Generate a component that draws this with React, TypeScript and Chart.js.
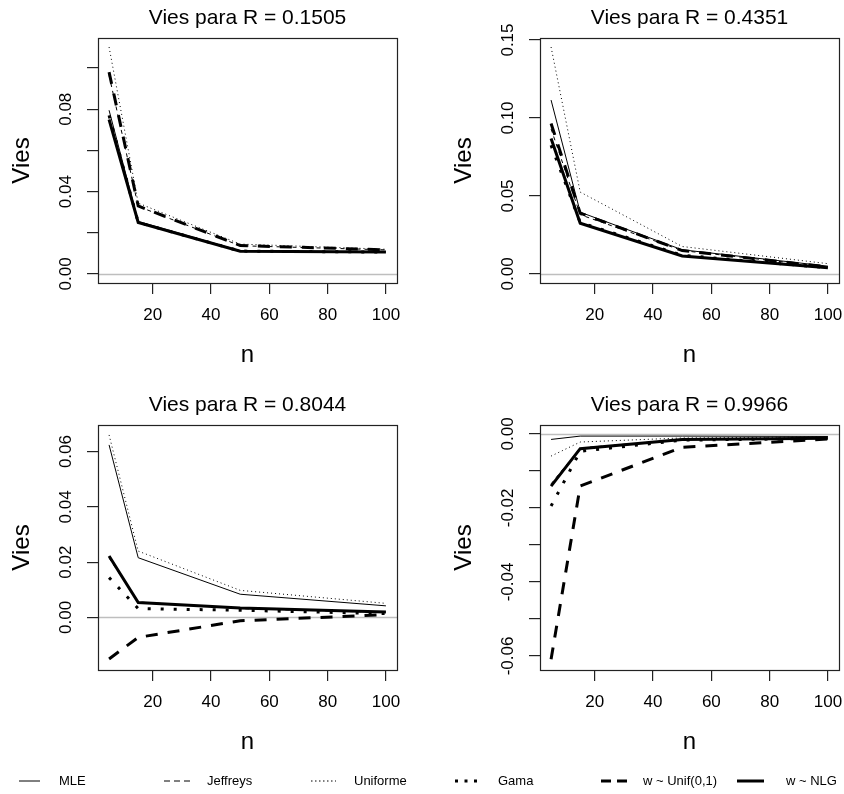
import React, { useEffect, useRef } from 'react';
import { Chart, registerables } from 'chart.js';

Chart.register(...registerables);

const FONT = "'Liberation Sans', Arial, Helvetica, sans-serif";

// ---- data ----
const nValues = [5, 15, 50, 100];
const xTicks = [20, 40, 60, 80, 100];
const seriesNames = ['MLE', 'Jeffreys', 'Uniforme', 'Gama', 'w ~ Unif(0,1)', 'w ~ NLG'];
const rValues = ['0.1505', '0.4351', '0.8044', '0.9966'];

// R = 0.1505
const mle1 = [0.0795, 0.0255, 0.0113, 0.0107];
const jeffreys1 = [0.0965, 0.0328, 0.0137, 0.0117];
const uniforme1 = [0.1102, 0.0344, 0.0145, 0.0120];
const gama1 = [0.0770, 0.0250, 0.0111, 0.0106];
const wUnif1 = [0.0980, 0.0330, 0.0138, 0.0117];
const wNlg1 = [0.0750, 0.0250, 0.0110, 0.0106];

// R = 0.4351
const mle2 = [0.1115, 0.0396, 0.0155, 0.0050];
const jeffreys2 = [0.0930, 0.0380, 0.0150, 0.0045];
const uniforme2 = [0.1455, 0.0525, 0.0176, 0.0066];
const gama2 = [0.0825, 0.0330, 0.0120, 0.0040];
const wUnif2 = [0.0965, 0.0390, 0.0150, 0.0045];
const wNlg2 = [0.0868, 0.0325, 0.0115, 0.0040];

// R = 0.8044
const mle3 = [0.0624, 0.0216, 0.0084, 0.0042];
const jeffreys3 = [0.0215, 0.0056, 0.0032, 0.0018];
const uniforme3 = [0.0660, 0.0240, 0.0098, 0.0051];
const gama3 = [0.0144, 0.0032, 0.0026, 0.0014];
const wUnif3 = [-0.0150, -0.0072, -0.0012, 0.0010];
const wNlg3 = [0.0222, 0.0054, 0.0034, 0.0020];

// R = 0.9966
const mle4 = [-0.0015, -0.0006, -0.0006, -0.0007];
const jeffreys4 = [-0.0135, -0.0038, -0.0015, -0.0011];
const uniforme4 = [-0.0060, -0.0022, -0.0011, -0.0008];
const gama4 = [-0.0195, -0.0047, -0.0017, -0.0012];
const wUnif4 = [-0.0609, -0.0141, -0.0036, -0.0014];
const wNlg4 = [-0.0141, -0.0040, -0.0015, -0.0012];

const yTicks1 = [0, 0.02, 0.04, 0.06, 0.08, 0.1];
const yLabels1 = ['0.00', '', '0.04', '', '0.08', ''];
const yTicks2 = [0, 0.05, 0.1, 0.15];
const yLabels2 = ['0.00', '0.05', '0.10', '0.15'];
const yTicks3 = [0, 0.02, 0.04, 0.06];
const yLabels3 = ['0.00', '0.02', '0.04', '0.06'];
const yTicks4 = [0, -0.01, -0.02, -0.03, -0.04, -0.05, -0.06];
const yLabels4 = ['0.00', '', '-0.02', '', '-0.04', '', '-0.06'];

const yMins = [-0.0044, -0.0058, -0.019, -0.0638];
const yMaxs = [0.1146, 0.1513, 0.0696, 0.0024];

const panelSeries = [
  [mle1, jeffreys1, uniforme1, gama1, wUnif1, wNlg1],
  [mle2, jeffreys2, uniforme2, gama2, wUnif2, wNlg2],
  [mle3, jeffreys3, uniforme3, gama3, wUnif3, wNlg3],
  [mle4, jeffreys4, uniforme4, gama4, wUnif4, wNlg4],
];
const panelYTicks = [yTicks1, yTicks2, yTicks3, yTicks4];
const panelYLabels = [yLabels1, yLabels2, yLabels3, yLabels4];

// ---- styles ----
const lineStyles = [
  { w: 1, dash: [] as number[] },
  { w: 1, dash: [4, 4] },
  { w: 1, dash: [1, 3] },
  { w: 3, dash: [3, 10] },
  { w: 3, dash: [12, 10] },
  { w: 3, dash: [] as number[] },
];

const CW = 422;
const CH = 385;
const AREA_LEFT = 98;
const AREA_RIGHT_PAD = 25;
const AREA_TOP = 38;
const AREA_BOTTOM = 283;

const rPlotPlugin = {
  id: 'rPlot',
  beforeDatasetsDraw(chart: any) {
    const { ctx, chartArea, scales } = chart;
    const py = Math.round(scales.y.getPixelForValue(0)) + 0.5;
    ctx.save();
    ctx.strokeStyle = '#BEBEBE';
    ctx.lineWidth = 1.3;
    ctx.beginPath();
    ctx.moveTo(chartArea.left, py);
    ctx.lineTo(chartArea.right, py);
    ctx.stroke();
    ctx.restore();
  },
  afterDraw(chart: any) {
    const { ctx, chartArea } = chart;
    ctx.save();
    ctx.strokeStyle = '#222';
    ctx.lineWidth = 1.2;
    ctx.setLineDash([]);
    ctx.strokeRect(
      chartArea.left + 0.5,
      chartArea.top + 0.5,
      chartArea.right - chartArea.left,
      chartArea.bottom - chartArea.top
    );
    ctx.restore();
  },
};

function measureWidest(labels: string[], size: number): number {
  const c = document.createElement('canvas');
  const ctx = c.getContext('2d');
  if (!ctx) return 33;
  ctx.font = `${size}px ${FONT}`;
  let w = 0;
  labels.forEach((l) => {
    w = Math.max(w, ctx.measureText(l).width);
  });
  return w;
}

function Panel({ idx, left, top }: { idx: number; left: number; top: number }) {
  const ref = useRef<HTMLCanvasElement | null>(null);
  useEffect(() => {
    if (!ref.current) return;
    const series = panelSeries[idx];
    const yTicks = panelYTicks[idx];
    const yLabels = panelYLabels[idx];
    const widest = measureWidest(yLabels, 17);
    const tickLen = 11;
    const chart = new Chart(ref.current, {
      type: 'line',
      data: {
        datasets: series.map((vals, k) => ({
          label: seriesNames[k],
          data: nValues.map((n, i) => ({ x: n, y: vals[i] })),
          borderColor: '#000',
          backgroundColor: '#000',
          borderWidth: lineStyles[k].w,
          borderDash: lineStyles[k].dash,
          pointRadius: 0,
          pointHoverRadius: 0,
          tension: 0,
          fill: false,
          order: 6 - k,
        })),
      },
      options: {
        responsive: false,
        animation: false,
        devicePixelRatio: 1,
        events: [],
        layout: { padding: { left: 0, right: AREA_RIGHT_PAD, top: 0, bottom: 0 } },
        plugins: {
          legend: { display: false },
          tooltip: { enabled: false },
          title: {
            display: true,
            fullSize: false,
            align: 'center',
            text: `Vies para R = ${rValues[idx]}`,
            color: '#000',
            font: { family: FONT, size: 21, weight: 'normal' },
            padding: { top: 5.4, bottom: AREA_TOP - 5.4 - 21 * 1.2 },
          },
        },
        scales: {
          x: {
            type: 'linear',
            min: 1.2,
            max: 103.8,
            bounds: 'data',
            afterBuildTicks: (s: any) => {
              s.ticks = xTicks.map((v) => ({ value: v }));
            },
            afterFit: (s: any) => {
              s.height = CH - AREA_BOTTOM;
              s.paddingLeft = 0;
              s.paddingRight = 0;
            },
            grid: {
              display: true,
              drawOnChartArea: false,
              drawTicks: true,
              tickLength: tickLen,
              color: '#222',
              lineWidth: 1.2,
            },
            border: { display: false },
            ticks: {
              color: '#000',
              font: { family: FONT, size: 17 },
              padding: 11.3,
              autoSkip: false,
              maxRotation: 0,
              minRotation: 0,
              callback: (v: any) => String(v),
            },
            title: {
              display: true,
              text: 'n',
              color: '#000',
              font: { family: FONT, size: 24 },
              padding: { top: 0, bottom: 15.6 },
            },
          },
          y: {
            type: 'linear',
            min: yMins[idx],
            max: yMaxs[idx],
            bounds: 'data',
            afterBuildTicks: (s: any) => {
              s.ticks = yTicks.map((v) => ({ value: v }));
            },
            afterFit: (s: any) => {
              s.width = AREA_LEFT;
              s.paddingTop = 0;
              s.paddingBottom = 0;
            },
            grid: {
              display: true,
              drawOnChartArea: false,
              drawTicks: true,
              tickLength: tickLen,
              color: '#222',
              lineWidth: 1.2,
            },
            border: { display: false },
            ticks: {
              color: '#000',
              font: { family: FONT, size: 17 },
              padding: 32 - tickLen - widest / 2,
              autoSkip: false,
              minRotation: 90,
              maxRotation: 90,
              crossAlign: 'center',
              callback: (_v: any, i: number) => yLabels[i],
            },
            title: {
              display: true,
              text: 'Vies',
              color: '#000',
              font: { family: FONT, size: 24 },
              padding: { top: 7.6, bottom: 0 },
            },
          },
        },
      } as any,
      plugins: [rPlotPlugin],
    });
    return () => chart.destroy();
  }, [idx]);
  return (
    <canvas
      ref={ref}
      width={CW}
      height={CH}
      style={{ position: 'absolute', left, top, width: CW, height: CH }}
    />
  );
}

const legendLineX = [19, 164, 311, 455, 601, 737];
const legendLineW = [21, 30, 25, 22, 26, 27];
const legendTextX = [59, 207, 354, 498, 643, 786];
const legendDash = ['', '6 4', '1.5 2.5', '3 6.5', '10 6', ''];

function Legend() {
  return (
    <div style={{ position: 'absolute', left: 0, top: 770, width: 844, height: 24 }}>
      {seriesNames.map((name, k) => (
        <React.Fragment key={name}>
          <svg
            style={{ position: 'absolute', left: legendLineX[k], top: 6, overflow: 'visible' }}
            width={legendLineW[k]}
            height={10}
          >
            <line
              x1={0}
              y1={5}
              x2={legendLineW[k]}
              y2={5}
              stroke="#000"
              strokeWidth={lineStyles[k].w}
              strokeDasharray={legendDash[k] || undefined}
            />
          </svg>
          <div
            style={{
              position: 'absolute',
              left: legendTextX[k],
              top: 3,
              fontFamily: FONT,
              fontSize: 13,
              lineHeight: '16px',
              color: '#000',
              whiteSpace: 'nowrap',
            }}
          >
            {name}
          </div>
        </React.Fragment>
      ))}
    </div>
  );
}

export default function App() {
  return (
    <div
      style={{
        position: 'absolute',
        left: 0,
        top: 0,
        width: 844,
        height: 794,
        overflow: 'hidden',
        background: '#fff',
      }}
    >
      <Panel idx={0} left={0} top={0} />
      <Panel idx={1} left={442} top={0} />
      <Panel idx={2} left={0} top={387} />
      <Panel idx={3} left={442} top={387} />
      <Legend />
    </div>
  );
}
